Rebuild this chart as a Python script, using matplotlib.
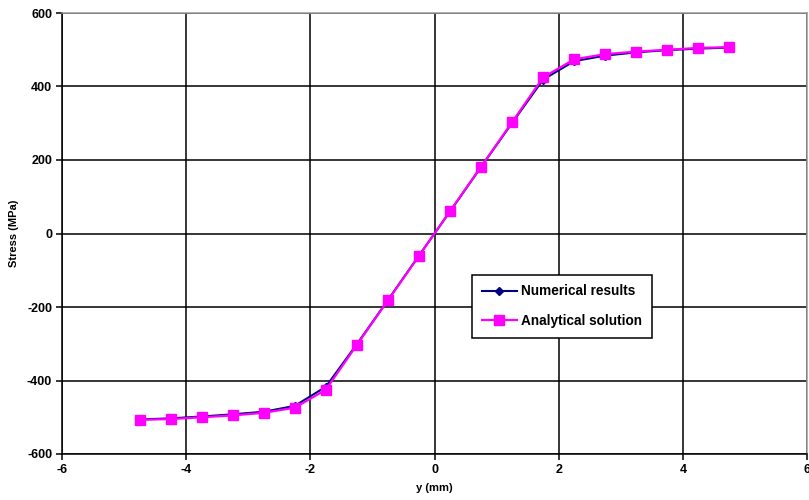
import matplotlib
matplotlib.use('Agg')
import matplotlib.pyplot as plt

plt.rcParams['font.family'] = ['Liberation Sans', 'DejaVu Sans']
plt.rcParams['font.weight'] = 'bold'
plt.rcParams['axes.unicode_minus'] = False

y_mm = [-4.75, -4.25, -3.75, -3.25, -2.75, -2.25, -1.75, -1.25, -0.75, -0.25,
        0.25, 0.75, 1.25, 1.75, 2.25, 2.75, 3.25, 3.75, 4.25, 4.75]
analytical = [-507, -505, -500, -495, -488, -474, -425, -303, -182, -61,
              61, 182, 303, 425, 474, 488, 495, 500, 505, 507]
numerical = [-506, -503, -498, -492, -485, -469, -417, -301, -181, -60,
             60, 181, 301, 419, 469, 484, 493, 499, 503, 506]

xticks = [-6, -4, -2, 0, 2, 4, 6]
yticks = [-600, -400, -200, 0, 200, 400, 600]

fig = plt.figure(figsize=(8.09, 5.0), dpi=100)
ax = fig.add_axes([0.0766, 0.092, 0.921, 0.882])

ax.plot(y_mm, numerical, color='#000080', marker='D', markersize=4, linewidth=1.5,
        label='Numerical results', zorder=3)
ax.plot(y_mm, analytical, color='#ff00ff', marker='s', markersize=6.5, linewidth=1.6,
        label='Analytical solution', zorder=4)

ax.set_xlim(-6, 6)
ax.set_ylim(-600, 600)
ax.set_xticks(xticks)
ax.set_yticks(yticks)
ax.grid(True, color='black', linewidth=1.1)
ax.set_axisbelow(True)
for s in ax.spines.values():
    s.set_color('black')
    s.set_linewidth(1.1)
ax.spines['right'].set_color('#999999')
ax.spines['top'].set_color('#999999')
ax.tick_params(direction='out', length=4, width=1.1, labelsize=9, pad=3)
for lab in ax.get_xticklabels() + ax.get_yticklabels():
    lab.set_fontweight('bold')

ax.set_xlabel('y (mm)', fontsize=8, fontweight='bold', labelpad=5)
ax.set_ylabel('Stress (MPa)', fontsize=8, fontweight='bold', labelpad=6)

leg = ax.legend(loc='upper left', bbox_to_anchor=(0.5415, 0.4216), fancybox=False,
                framealpha=1, edgecolor='black', fontsize=9.8, handlelength=2.6,
                borderpad=0.7, labelspacing=1.15, handletextpad=0.3)
leg.get_frame().set_linewidth(1.1)
for t in leg.get_texts():
    t.set_fontweight('bold')

fig.savefig('out.png', dpi=100)
